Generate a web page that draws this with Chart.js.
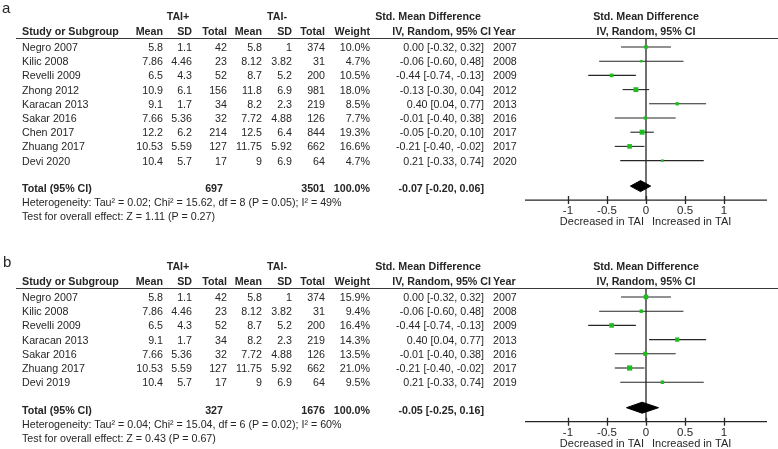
<!DOCTYPE html>
<html lang="en">
<head>
<meta charset="UTF-8">
<title>Forest plot - TAI</title>
<script src="https://cdn.jsdelivr.net/npm/chart.js@4.4.1/dist/chart.umd.min.js"></script>
<style>
  body { margin: 0; width: 778px; height: 449px; position: relative; overflow: hidden; background: #fff;
         font-family: "Liberation Sans", Arial, sans-serif; color: #262626; }
  .t { position: absolute; font-size: 10.7px; line-height: 14px; white-space: nowrap; }
  .b { font-weight: bold; }
  .rule { position: absolute; left: 16px; width: 762px; height: 1.4px; background: #3a3a3a; }
  canvas { position: absolute; left: 0; }
</style>
</head>
<body>
<canvas id="plotA" width="778" height="230" style="top:0px"></canvas>
<canvas id="plotB" width="778" height="200" style="top:250px"></canvas>

<script>
// ---- panel a data ----
var studiesA = ["Negro 2007", "Kilic 2008", "Revelli 2009", "Zhong 2012", "Karacan 2013", "Sakar 2016", "Chen 2017", "Zhuang 2017", "Devi 2020"];
var meanPlusA = [5.8, 7.86, 6.5, 10.9, 9.1, 7.66, 12.2, 10.53, 10.4];
var sdPlusA = [1.1, 4.46, 4.3, 6.1, 1.7, 5.36, 6.2, 5.59, 5.7];
var nPlusA = [42, 23, 52, 156, 34, 32, 214, 127, 17];
var meanMinusA = [5.8, 8.12, 8.7, 11.8, 8.2, 7.72, 12.5, 11.75, 9];
var sdMinusA = [1, 3.82, 5.2, 6.9, 2.3, 4.88, 6.4, 5.92, 6.9];
var nMinusA = [374, 31, 200, 981, 219, 126, 844, 662, 64];
var weightA = [10.0, 4.7, 10.5, 18.0, 8.5, 7.7, 19.3, 16.6, 4.7];
var smdA = [0.00, -0.06, -0.44, -0.13, 0.40, -0.01, -0.05, -0.21, 0.21];
var lowA = [-0.32, -0.60, -0.74, -0.30, 0.04, -0.40, -0.20, -0.40, -0.33];
var highA = [0.32, 0.48, -0.13, 0.04, 0.77, 0.38, 0.10, -0.02, 0.74];
var yearA = [2007, 2008, 2009, 2012, 2013, 2016, 2017, 2017, 2020];
var totalA = { nPlus: 697, nMinus: 3501, smd: -0.07, low: -0.20, high: 0.06,
  het: "Heterogeneity: Tau\u00b2 = 0.02; Chi\u00b2 = 15.62, df = 8 (P = 0.05); I\u00b2 = 49%",
  test: "Test for overall effect: Z = 1.11 (P = 0.27)" };

// ---- panel b data ----
var studiesB = ["Negro 2007", "Kilic 2008", "Revelli 2009", "Karacan 2013", "Sakar 2016", "Zhuang 2017", "Devi 2019"];
var meanPlusB = [5.8, 7.86, 6.5, 9.1, 7.66, 10.53, 10.4];
var sdPlusB = [1.1, 4.46, 4.3, 1.7, 5.36, 5.59, 5.7];
var nPlusB = [42, 23, 52, 34, 32, 127, 17];
var meanMinusB = [5.8, 8.12, 8.7, 8.2, 7.72, 11.75, 9];
var sdMinusB = [1, 3.82, 5.2, 2.3, 4.88, 5.92, 6.9];
var nMinusB = [374, 31, 200, 219, 126, 662, 64];
var weightB = [15.9, 9.4, 16.4, 14.3, 13.5, 21.0, 9.5];
var smdB = [0.00, -0.06, -0.44, 0.40, -0.01, -0.21, 0.21];
var lowB = [-0.32, -0.60, -0.74, 0.04, -0.40, -0.40, -0.33];
var highB = [0.32, 0.48, -0.13, 0.77, 0.38, -0.02, 0.74];
var yearB = [2007, 2008, 2009, 2013, 2016, 2017, 2019];
var totalB = { nPlus: 327, nMinus: 1676, smd: -0.05, low: -0.25, high: 0.16,
  het: "Heterogeneity: Tau\u00b2 = 0.04; Chi\u00b2 = 15.04, df = 6 (P = 0.02); I\u00b2 = 60%",
  test: "Test for overall effect: Z = 0.43 (P = 0.67)" };

var xTicks = [-1, -0.5, 0, 0.5, 1];
var xTickLabels = ["-1", "-0.5", "0", "0.5", "1"];
var leftLabel = "Decreased in TAI";
var rightLabel = "Increased in TAI";

var ROW = 14.2;
var GREEN = "#1ebd1e";
var INK = "#262626";

// put a line of text on the page; align: l, r or c
function txt(s, x, y, align, cls, size) {
  var d = document.createElement("div");
  d.className = "t" + (cls ? " " + cls : "");
  d.textContent = s;
  if (size) { d.style.fontSize = size + "px"; d.style.lineHeight = "18px"; }
  d.style.top = (y - (size ? 9 : 7)) + "px";
  if (align == "r") d.style.right = (778 - x) + "px";
  else if (align == "c") { d.style.left = x + "px"; d.style.transform = "translateX(-50%)"; }
  else d.style.left = x + "px";
  document.body.appendChild(d);
}

function fmtCI(v, lo, hi) {
  return v.toFixed(2) + " [" + lo.toFixed(2) + ", " + hi.toFixed(2) + "]";
}

function buildPanel(p) {
  var o = p.top;
  txt(p.letter, p.letterX, p.letterY, "l", "", 15);
  txt("TAI+", 178, o + 16, "c", "b");
  txt("TAI-", 277, o + 16, "c", "b");
  txt("Std. Mean Difference", 428, o + 16, "c", "b");
  txt("Std. Mean Difference", 646, o + 16, "c", "b");
  txt("Study or Subgroup", 22, o + 31, "l", "b");
  txt("Mean", 163, o + 31, "r", "b");
  txt("SD", 192, o + 31, "r", "b");
  txt("Total", 227, o + 31, "r", "b");
  txt("Mean", 262, o + 31, "r", "b");
  txt("SD", 292, o + 31, "r", "b");
  txt("Total", 325, o + 31, "r", "b");
  txt("Weight", 370, o + 31, "r", "b");
  txt("IV, Random, 95% CI", 491, o + 31, "r", "b");
  txt("Year", 493, o + 31, "l", "b");
  txt("IV, Random, 95% CI", 646, o + 31, "c", "b");

  var rule = document.createElement("div");
  rule.className = "rule";
  rule.style.top = (o + 38) + "px";
  document.body.appendChild(rule);

  var y0 = o + 47;
  for (var i = 0; i < p.studies.length; i++) {
    var y = y0 + i * ROW;
    txt(p.studies[i], 22, y, "l");
    txt(String(p.meanPlus[i]), 163, y, "r");
    txt(String(p.sdPlus[i]), 192, y, "r");
    txt(String(p.nPlus[i]), 227, y, "r");
    txt(String(p.meanMinus[i]), 262, y, "r");
    txt(String(p.sdMinus[i]), 292, y, "r");
    txt(String(p.nMinus[i]), 325, y, "r");
    txt(p.weight[i].toFixed(1) + "%", 370, y, "r");
    txt(fmtCI(p.smd[i], p.low[i], p.high[i]), 484, y, "r");
    txt(String(p.year[i]), 493, y, "l");
  }
  var last = y0 + (p.studies.length - 1) * ROW;
  var ty = last + 27.5;
  txt("Total (95% CI)", 22, ty, "l", "b");
  txt(String(p.total.nPlus), 223, ty, "r", "b");
  txt(String(p.total.nMinus), 325, ty, "r", "b");
  txt("100.0%", 370, ty, "r", "b");
  txt(fmtCI(p.total.smd, p.total.low, p.total.high), 484, ty, "r", "b");
  txt(p.total.het, 22, ty + 14, "l");
  txt(p.total.test, 22, ty + 28, "l");

  // forest plot
  var canvasH = document.getElementById(p.canvas).height;
  var axisY = last + 39.5 - o;     // local y of the x axis
  var n = p.studies.length;
  var yMax = (axisY - 47) / ROW;
  var totalRow = (last + 25.5 - y0) / ROW;
  var dh = 5.5 / ROW;

  var datasets = [];
  datasets.push({
    label: "studies", data: p.smd.map(function (v, i) { return { x: v, y: i }; }),
    pointStyle: "rect", backgroundColor: GREEN, borderWidth: 0,
    pointRadius: p.weight.map(function (w) { return 0.8 * Math.sqrt(w); }),
    order: 0, clip: false
  });
  datasets.push({
    label: "overall", showLine: true, fill: "shape", backgroundColor: "#000", borderColor: "#000", borderWidth: 1,
    pointRadius: 0, order: 1, clip: false,
    data: [{ x: p.total.low, y: totalRow }, { x: p.total.smd, y: totalRow - dh },
           { x: p.total.high, y: totalRow }, { x: p.total.smd, y: totalRow + dh },
           { x: p.total.low, y: totalRow }]
  });
  for (var k = 0; k < n; k++) {
    datasets.push({
      label: "ci" + k, showLine: true, borderColor: INK, borderWidth: 1.1, pointRadius: 0, order: 2, clip: false,
      data: [{ x: p.low[k], y: k }, { x: p.high[k], y: k }]
    });
  }
  datasets.push({
    label: "zero", showLine: true, borderColor: INK, borderWidth: 1.3, pointRadius: 0, order: 3, clip: false,
    data: [{ x: 0, y: -0.62 }, { x: 0, y: yMax }]
  });

  var axisPlugin = {
    id: "forestAxis",
    afterDraw: function (chart) {
      var ctx = chart.ctx, xs = chart.scales.x, a = chart.chartArea;
      ctx.save();
      ctx.strokeStyle = INK;
      ctx.lineWidth = 1.3;
      ctx.beginPath();
      ctx.moveTo(a.left, a.bottom);
      ctx.lineTo(a.right, a.bottom);
      xTicks.forEach(function (t) {
        var px = Math.round(xs.getPixelForValue(t)) + 0.5;
        ctx.moveTo(px, a.bottom - 4);
        ctx.lineTo(px, a.bottom + 4);
      });
      ctx.stroke();
      ctx.fillStyle = INK;
      ctx.font = "11.5px 'Liberation Sans', Arial, sans-serif";
      ctx.textAlign = "center";
      ctx.textBaseline = "middle";
      xTicks.forEach(function (t, i) {
        ctx.fillText(xTickLabels[i], xs.getPixelForValue(t), a.bottom + 11);
      });
      var zx = xs.getPixelForValue(0);
      ctx.font = "11px 'Liberation Sans', Arial, sans-serif";
      ctx.textAlign = "right";
      ctx.fillText(leftLabel, zx - 2, a.bottom + 22);
      ctx.textAlign = "left";
      ctx.fillText(rightLabel, zx + 6, a.bottom + 22);
      ctx.restore();
    }
  };

  new Chart(p.canvas, {
    type: "scatter",
    data: { datasets: datasets },
    options: {
      responsive: false,
      animation: false,
      layout: { padding: { left: 525, right: 11, top: 38, bottom: canvasH - axisY } },
      plugins: { legend: { display: false }, tooltip: { enabled: false } },
      scales: {
        x: { type: "linear", min: -1.55, max: 1.55, display: false },
        y: { type: "linear", reverse: true, min: -9 / ROW, max: yMax, display: false }
      }
    },
    plugins: [axisPlugin]
  });
}

buildPanel({
  letter: "a", letterX: 2, letterY: 8, top: 0, canvas: "plotA",
  studies: studiesA, meanPlus: meanPlusA, sdPlus: sdPlusA, nPlus: nPlusA,
  meanMinus: meanMinusA, sdMinus: sdMinusA, nMinus: nMinusA,
  weight: weightA, smd: smdA, low: lowA, high: highA, year: yearA, total: totalA
});
buildPanel({
  letter: "b", letterX: 3, letterY: 262, top: 250, canvas: "plotB",
  studies: studiesB, meanPlus: meanPlusB, sdPlus: sdPlusB, nPlus: nPlusB,
  meanMinus: meanMinusB, sdMinus: sdMinusB, nMinus: nMinusB,
  weight: weightB, smd: smdB, low: lowB, high: highB, year: yearB, total: totalB
});
</script>
</body>
</html>
